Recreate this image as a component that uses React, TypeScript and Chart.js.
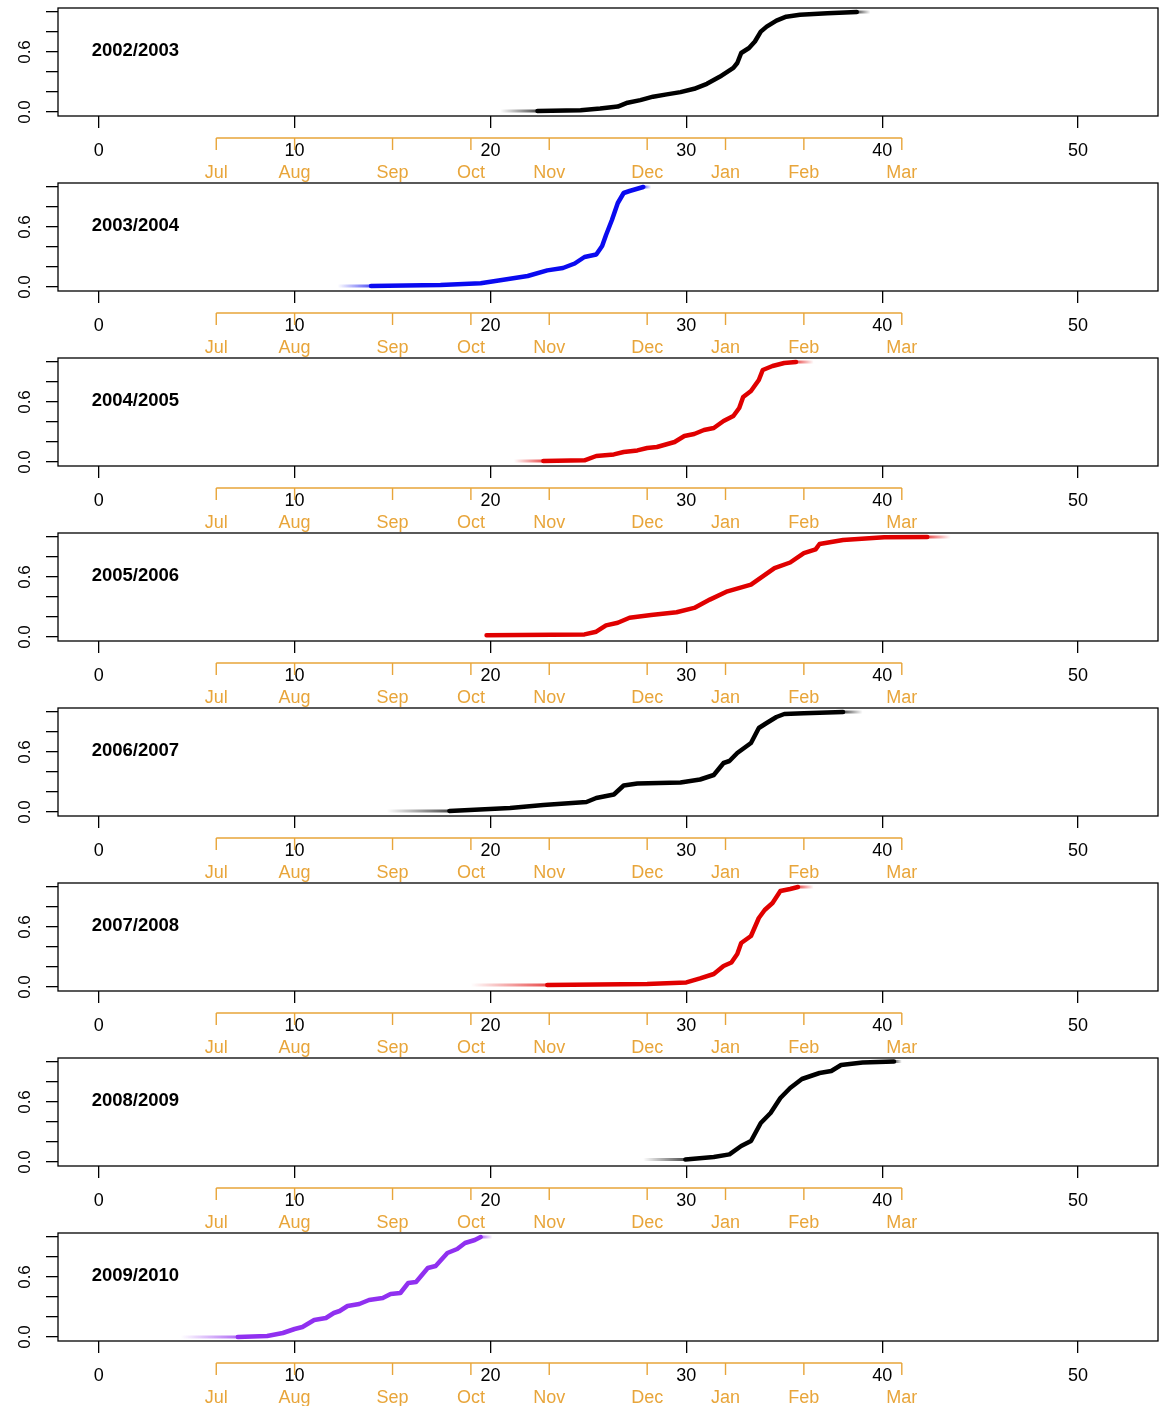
import React, { useEffect, useRef } from 'react';
import { Chart, registerables } from 'chart.js';

Chart.register(...registerables);

const PANEL_W = 1162;
const PANEL_STEP = 175;
const CANVAS_H = 182;
const FONT = '"Liberation Sans", Arial, Helvetica, sans-serif';
const ORANGE = '#E8A53A';

const xTicks = [0, 10, 20, 30, 40, 50];
const yTicks = [0, 0.2, 0.4, 0.6, 0.8, 1.0];
const yTickLabels = ['0.0', '', '', '0.6', '', ''];
const monthLabels = ['Jul', 'Aug', 'Sep', 'Oct', 'Nov', 'Dec', 'Jan', 'Feb', 'Mar'];
const monthPositions = [6, 10, 15, 19, 23, 28, 32, 36, 41];

const seasonLabels = ['2002/2003', '2003/2004', '2004/2005', '2005/2006', '2006/2007', '2007/2008', '2008/2009', '2009/2010'];
const seasonColors = ['#000000', '#0A0AF0', '#E00000', '#E00000', '#000000', '#E00000', '#000000', '#9030F0'];

const x0203 = [22.4, 24.6, 25.6, 26.5, 27.0, 27.65, 28.3, 29.0, 29.7, 30.4, 31.05, 31.7, 32.4, 32.6, 32.8, 33.2, 33.5, 33.8, 34.1, 34.6, 35.1, 35.8, 37.2, 38.7];
const y0203 = [0.01, 0.017, 0.034, 0.054, 0.093, 0.119, 0.153, 0.176, 0.199, 0.232, 0.282, 0.352, 0.441, 0.49, 0.59, 0.64, 0.705, 0.804, 0.854, 0.914, 0.953, 0.973, 0.987, 1.0];

const x0304 = [13.9, 17.45, 19.5, 20.5, 21.9, 22.9, 23.7, 24.3, 24.8, 25.4, 25.7, 25.9, 26.2, 26.5, 26.8, 27.1, 27.8];
const y0304 = [0.01, 0.02, 0.037, 0.067, 0.11, 0.166, 0.19, 0.235, 0.30, 0.325, 0.41, 0.52, 0.67, 0.84, 0.94, 0.96, 1.0];

const x0405 = [22.7, 24.8, 25.4, 26.3, 26.8, 27.5, 28.0, 28.5, 29.4, 29.9, 30.4, 30.9, 31.4, 31.9, 32.4, 32.7, 32.9, 33.3, 33.7, 33.9, 34.4, 35.0, 35.6];
const y0405 = [0.01, 0.017, 0.06, 0.076, 0.10, 0.116, 0.14, 0.15, 0.20, 0.26, 0.28, 0.32, 0.34, 0.41, 0.46, 0.54, 0.65, 0.71, 0.82, 0.92, 0.96, 0.99, 1.0];

const x0506 = [19.8, 24.8, 25.4, 25.9, 26.5, 27.1, 28.2, 29.5, 30.4, 31.2, 32.1, 33.3, 33.9, 34.5, 35.3, 36.0, 36.6, 36.8, 38.0, 40.1, 42.3];
const y0506 = [0.017, 0.026, 0.053, 0.116, 0.142, 0.192, 0.219, 0.248, 0.291, 0.374, 0.457, 0.523, 0.606, 0.689, 0.745, 0.838, 0.877, 0.93, 0.97, 0.997, 1.0];

const x0607 = [17.9, 21.0, 22.7, 24.9, 25.4, 26.3, 26.8, 27.5, 29.7, 30.7, 31.4, 31.9, 32.2, 32.6, 33.3, 33.7, 34.1, 34.6, 35.0, 36.0, 38.0];
const y0607 = [0.01, 0.04, 0.07, 0.10, 0.14, 0.175, 0.265, 0.285, 0.295, 0.325, 0.37, 0.49, 0.51, 0.59, 0.69, 0.84, 0.89, 0.95, 0.98, 0.987, 1.0];

const x0708 = [22.9, 28.0, 30.0, 30.7, 31.4, 31.9, 32.3, 32.6, 32.8, 33.3, 33.7, 34.0, 34.4, 34.8, 35.3, 35.7];
const y0708 = [0.02, 0.03, 0.046, 0.086, 0.13, 0.21, 0.245, 0.33, 0.44, 0.51, 0.69, 0.77, 0.84, 0.96, 0.98, 1.0];

const x0809 = [29.95, 31.4, 32.2, 32.8, 33.3, 33.8, 34.3, 34.8, 35.3, 35.9, 36.8, 37.4, 37.9, 39.0, 40.6];
const y0809 = [0.025, 0.05, 0.076, 0.16, 0.21, 0.39, 0.49, 0.64, 0.74, 0.83, 0.89, 0.91, 0.97, 0.995, 1.005];

const x0910 = [7.1, 8.6, 9.4, 10.0, 10.4, 11.0, 11.6, 12.0, 12.3, 12.7, 13.3, 13.8, 14.5, 14.9, 15.4, 15.8, 16.2, 16.8, 17.2, 17.8, 18.3, 18.7, 19.2, 19.5];
const y0910 = [0.0, 0.01, 0.04, 0.08, 0.10, 0.17, 0.19, 0.24, 0.26, 0.31, 0.33, 0.37, 0.39, 0.43, 0.44, 0.54, 0.55, 0.69, 0.71, 0.84, 0.88, 0.94, 0.97, 1.0];

const seasonX = [x0203, x0304, x0405, x0506, x0607, x0708, x0809, x0910];
const seasonY = [y0203, y0304, y0405, y0506, y0607, y0708, y0809, y0910];
const tailStarts: (number | null)[] = [20.5, 12.2, 21.2, null, 14.7, 19.0, 27.8, 4.2];
const tailEnds = [39.4, 28.2, 36.5, 43.5, 39.0, 36.5, 41.0, 20.1];

function rgba(hex: string, a: number) {
  const n = parseInt(hex.slice(1), 16);
  return `rgba(${(n >> 16) & 255},${(n >> 8) & 255},${n & 255},${a})`;
}

function fade(color: string, from: number, to: number, solidAtEnd: boolean) {
  return (c: any) => {
    const chart = c.chart;
    const xs = chart.scales && chart.scales.x;
    if (!xs || !chart.chartArea) return rgba(color, 0.4);
    const g = chart.ctx.createLinearGradient(xs.getPixelForValue(from), 0, xs.getPixelForValue(to), 0);
    g.addColorStop(0, rgba(color, solidAtEnd ? 0 : 0.7));
    g.addColorStop(1, rgba(color, solidAtEnd ? 0.7 : 0));
    return g;
  };
}

function makeDecor(idx: number) {
  return {
    id: 'decor' + idx,
    afterDraw(chart: any) {
      const { ctx, chartArea: a } = chart;
      const x = chart.scales.x;
      const y = chart.scales.y;
      ctx.save();
      ctx.strokeStyle = '#000';
      ctx.lineWidth = 1.3;
      ctx.strokeRect(a.left, a.top, a.right - a.left, a.bottom - a.top);

      ctx.fillStyle = '#000';
      ctx.font = `17px ${FONT}`;
      ctx.textAlign = 'center';
      ctx.textBaseline = 'middle';
      yTicks.forEach((v, i) => {
        if (!yTickLabels[i]) return;
        ctx.save();
        ctx.translate(25, y.getPixelForValue(v));
        ctx.rotate(-Math.PI / 2);
        ctx.fillText(yTickLabels[i], 0, 0);
        ctx.restore();
      });

      const oy = a.bottom + 22;
      ctx.strokeStyle = ORANGE;
      ctx.lineWidth = 1.4;
      ctx.beginPath();
      ctx.moveTo(x.getPixelForValue(monthPositions[0]), oy);
      ctx.lineTo(x.getPixelForValue(monthPositions[monthPositions.length - 1]), oy);
      monthPositions.forEach((m) => {
        const px = x.getPixelForValue(m);
        ctx.moveTo(px, oy);
        ctx.lineTo(px, oy + 12);
      });
      ctx.stroke();
      ctx.fillStyle = ORANGE;
      ctx.font = `18px ${FONT}`;
      monthLabels.forEach((l, i) => {
        ctx.fillText(l, x.getPixelForValue(monthPositions[i]), a.bottom + 57);
      });

      ctx.fillStyle = '#000';
      ctx.font = `bold 18.5px ${FONT}`;
      ctx.textAlign = 'left';
      ctx.fillText(seasonLabels[idx], x.getPixelForValue(-0.36), y.getPixelForValue(0.61));
      ctx.restore();
    },
  };
}

function Panel({ idx }: { idx: number }) {
  const ref = useRef<HTMLCanvasElement>(null);
  useEffect(() => {
    const xs = seasonX[idx];
    const ys = seasonY[idx];
    const color = seasonColors[idx];
    const datasets: any[] = [
      {
        data: xs.map((v, i) => ({ x: v, y: ys[i] })),
        borderColor: color,
        borderWidth: 4.5,
        pointRadius: 0,
        tension: 0,
        borderJoinStyle: 'round',
        borderCapStyle: 'round',
      },
    ];
    const ts = tailStarts[idx];
    if (ts !== null) {
      datasets.push({
        data: [{ x: ts, y: ys[0] }, { x: xs[0], y: ys[0] }],
        borderColor: fade(color, ts, xs[0], true),
        borderWidth: 3,
        pointRadius: 0,
      });
    }
    const te = tailEnds[idx];
    const last = xs.length - 1;
    datasets.push({
      data: [{ x: xs[last], y: ys[last] }, { x: te, y: ys[last] }],
      borderColor: fade(color, xs[last], te, false),
      borderWidth: 3,
      pointRadius: 0,
    });

    const chart = new Chart(ref.current as HTMLCanvasElement, {
      type: 'line',
      data: { datasets },
      options: {
        animation: false,
        responsive: false,
        maintainAspectRatio: false,
        devicePixelRatio: 1,
        layout: { padding: { top: 8, right: 4, left: 0, bottom: 0 } },
        plugins: { legend: { display: false }, tooltip: { enabled: false } },
        scales: {
          x: {
            type: 'linear',
            min: -2.08,
            max: 54.08,
            afterBuildTicks: (s: any) => {
              s.ticks = xTicks.map((v) => ({ value: v }));
            },
            afterFit: (s: any) => {
              s.height = CANVAS_H - 116;
            },
            border: { display: false },
            grid: { drawOnChartArea: false, drawTicks: true, tickLength: 12, color: '#000', lineWidth: 1.3 },
            ticks: { color: '#000', font: { family: FONT, size: 18 }, padding: 12, maxRotation: 0, autoSkip: false },
          },
          y: {
            type: 'linear',
            min: -0.04,
            max: 1.04,
            afterBuildTicks: (s: any) => {
              s.ticks = yTicks.map((v) => ({ value: v }));
            },
            afterFit: (s: any) => {
              s.width = 58;
            },
            border: { display: false },
            grid: { drawOnChartArea: false, drawTicks: true, tickLength: 12, color: '#000', lineWidth: 1.3 },
            ticks: { display: false },
          },
        },
      } as any,
      plugins: [makeDecor(idx)],
    });
    return () => chart.destroy();
  }, [idx]);
  return (
    <canvas
      ref={ref}
      width={PANEL_W}
      height={CANVAS_H}
      style={{ position: 'absolute', left: 0, top: idx * PANEL_STEP, width: PANEL_W, height: CANVAS_H, display: 'block' }}
    />
  );
}

export default function App() {
  return (
    <div style={{ position: 'absolute', left: 0, top: 0, width: PANEL_W, height: 1406, background: '#fff' }}>
      {seasonLabels.map((_, i) => (
        <Panel key={i} idx={i} />
      ))}
    </div>
  );
}
